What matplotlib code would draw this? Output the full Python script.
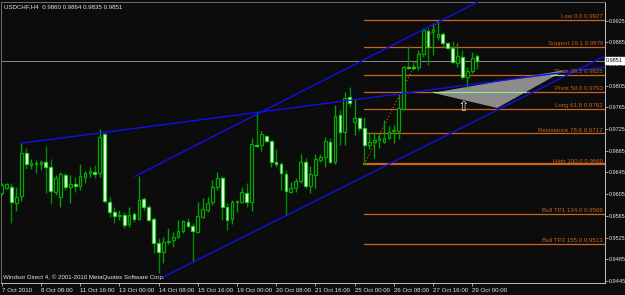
import numpy as np
import matplotlib.pyplot as plt
import matplotlib.transforms as mtransforms
from matplotlib.patches import Polygon

plt.rcParams['font.family'] = ['Liberation Sans', 'DejaVu Sans']

# USDCHF H4 candles, 7 Oct 2010 00:00 -> 29 Oct 2010 04:00 (6 bars a day)
opens = [0.9607, 0.9616, 0.9618, 0.9589, 0.9602, 0.9681, 0.9659, 0.9661, 0.9661, 0.9664,
         0.9655, 0.9609, 0.9600, 0.9640, 0.9618, 0.9624, 0.9620, 0.9637, 0.9644, 0.9646,
         0.9644, 0.9716, 0.9591, 0.9572, 0.9565, 0.9567, 0.9550, 0.9568, 0.9559, 0.9596,
         0.9581, 0.9559, 0.9515, 0.9498, 0.9517, 0.9520, 0.9526, 0.9537, 0.9554, 0.9546,
         0.9535, 0.9563, 0.9576, 0.9591, 0.9618, 0.9635, 0.9581, 0.9559, 0.9591, 0.9591,
         0.9607, 0.9591, 0.9696, 0.9696, 0.9712, 0.9703, 0.9664, 0.9661, 0.9642, 0.9609,
         0.9616, 0.9629, 0.9664, 0.9620, 0.9640, 0.9668, 0.9674, 0.9701, 0.9664, 0.9751,
         0.9720, 0.9784, 0.9738, 0.9745, 0.9727, 0.9696, 0.9701, 0.9705, 0.9701, 0.9709,
         0.9722, 0.9722, 0.9762, 0.9840, 0.9840, 0.9840, 0.9864, 0.9906, 0.9904, 0.9895,
         0.9901, 0.9884, 0.9875, 0.9847, 0.9858, 0.9821, 0.9832, 0.9860]
highs = [0.9626, 0.9626, 0.9626, 0.9618, 0.9699, 0.9690, 0.9670, 0.9668, 0.9668, 0.9694,
         0.9670, 0.9640, 0.9646, 0.9644, 0.9640, 0.9637, 0.9661, 0.9648, 0.9655, 0.9659,
         0.9725, 0.9718, 0.9600, 0.9581, 0.9576, 0.9572, 0.9581, 0.9572, 0.9638, 0.9600,
         0.9585, 0.9563, 0.9524, 0.9526, 0.9543, 0.9535, 0.9557, 0.9557, 0.9561, 0.9552,
         0.9591, 0.9598, 0.9600, 0.9631, 0.9646, 0.9638, 0.9589, 0.9594, 0.9594, 0.9618,
         0.9626, 0.9709, 0.9755, 0.9722, 0.9714, 0.9705, 0.9688, 0.9664, 0.9650, 0.9627,
         0.9635, 0.9679, 0.9672, 0.9657, 0.9679, 0.9679, 0.9710, 0.9709, 0.9770, 0.9760,
         0.9793, 0.9803, 0.9781, 0.9747, 0.9747, 0.9720, 0.9720, 0.9718, 0.9742, 0.9731,
         0.9733, 0.9788, 0.9841, 0.9878, 0.9849, 0.9871, 0.9912, 0.9912, 0.9921, 0.9927,
         0.9904, 0.9886, 0.9888, 0.9884, 0.9871, 0.9840, 0.9867, 0.9864]
lows = [0.9603, 0.9615, 0.9552, 0.9574, 0.9592, 0.9651, 0.9651, 0.9644, 0.9650, 0.9607,
        0.9587, 0.9603, 0.9581, 0.9613, 0.9589, 0.9609, 0.9613, 0.9626, 0.9637, 0.9635,
        0.9637, 0.9589, 0.9563, 0.9552, 0.9557, 0.9543, 0.9544, 0.9554, 0.9557, 0.9576,
        0.9555, 0.9496, 0.9460, 0.9478, 0.9513, 0.9508, 0.9524, 0.9533, 0.9544, 0.9480,
        0.9533, 0.9561, 0.9572, 0.9585, 0.9613, 0.9557, 0.9539, 0.9550, 0.9572, 0.9589,
        0.9581, 0.9574, 0.9692, 0.9685, 0.9701, 0.9655, 0.9655, 0.9613, 0.9567, 0.9607,
        0.9609, 0.9626, 0.9616, 0.9607, 0.9616, 0.9664, 0.9655, 0.9662, 0.9661, 0.9696,
        0.9696, 0.9766, 0.9714, 0.9722, 0.9660, 0.9688, 0.9672, 0.9690, 0.9699, 0.9707,
        0.9699, 0.9707, 0.9760, 0.9836, 0.9834, 0.9834, 0.9858, 0.9843, 0.9862, 0.9889,
        0.9877, 0.9873, 0.9847, 0.9840, 0.9817, 0.9801, 0.9829, 0.9835]
closes = [0.9622, 0.9624, 0.9591, 0.9600, 0.9681, 0.9661, 0.9662, 0.9662, 0.9664, 0.9655,
          0.9611, 0.9635, 0.9642, 0.9618, 0.9624, 0.9620, 0.9638, 0.9644, 0.9648, 0.9642,
          0.9710, 0.9592, 0.9572, 0.9565, 0.9567, 0.9548, 0.9567, 0.9559, 0.9594, 0.9581,
          0.9557, 0.9515, 0.9498, 0.9517, 0.9519, 0.9526, 0.9537, 0.9555, 0.9546, 0.9537,
          0.9565, 0.9578, 0.9589, 0.9618, 0.9635, 0.9581, 0.9557, 0.9591, 0.9592, 0.9609,
          0.9591, 0.9698, 0.9694, 0.9716, 0.9703, 0.9664, 0.9661, 0.9644, 0.9611, 0.9616,
          0.9629, 0.9664, 0.9620, 0.9642, 0.9670, 0.9674, 0.9703, 0.9664, 0.9749, 0.9720,
          0.9782, 0.9773, 0.9745, 0.9727, 0.9696, 0.9701, 0.9705, 0.9709, 0.9709, 0.9720,
          0.9723, 0.9764, 0.9840, 0.9838, 0.9838, 0.9864, 0.9908, 0.9877, 0.9908, 0.9901,
          0.9884, 0.9875, 0.9849, 0.9860, 0.9821, 0.9832, 0.9856, 0.9851]

tick_bars = [0, 8, 16, 24, 32, 40, 48, 56, 64, 72, 80, 88, 96]
tick_labels = ['7 Oct 2010', '8 Oct 08:00', '11 Oct 16:00', '13 Oct 00:00', '14 Oct 08:00',
               '15 Oct 16:00', '19 Oct 00:00', '20 Oct 08:00', '21 Oct 16:00', '25 Oct 00:00',
               '26 Oct 08:00', '27 Oct 16:00', '29 Oct 00:00']
price_ticks = [0.9925, 0.9885, 0.9845, 0.9805, 0.9765, 0.9725, 0.9685, 0.9645,
               0.9605, 0.9565, 0.9525, 0.9485, 0.9445]

# fibonacci object (anchored low bar 74 -> high bar 89)
fib_start, fib_end = 74, 89
fib_levels = [0.9927, 0.9876, 0.9825, 0.9793, 0.9762, 0.9717, 0.9660, 0.9569, 0.9513]
fib_names = ['Low 0.0', 'Support 19.1', 'Short 38.2', 'Pivot 50.0', 'Long 61.8',
             'Resistance 78.6', 'High 100.0', 'Bull TP1 134.0', 'Bull TP2 155.0']

# trend lines: start bar, start price, slope per bar
upper_chan = (27.2, 0.9638, 0.00046)
lower_chan = (32.9, 0.9452, 0.000452)
top_line = (4.0, 0.9699, 0.000118)

tri_bars = [88.0, 101.1, 115.0]
tri_prices = [0.9792, 0.9764, 0.9834]

last_price = 0.9851

BG = '#0c0c0c'
ORANGE = '#c9641c'
BLUE = '#1010e8'
TXT = '#e6e6e6'
FS = 4.4

fig = plt.figure(figsize=(6.25, 2.95), dpi=100, facecolor=BG)
ax = fig.add_axes([1 / 625, 12 / 295, 604 / 625, 281 / 295], facecolor=BG)

x = np.arange(len(opens))
o = np.array(opens)
h = np.array(highs)
l = np.array(lows)
c = np.array(closes)
up = c >= o

# wicks
ax.vlines(x[up], l[up], h[up], color='#00a000', lw=1.0, zorder=3)
ax.vlines(x[~up], l[~up], h[~up], color='#008a00', lw=1.0, zorder=3)
# bodies
body_lo = np.minimum(o, c)
body_h = np.maximum(np.abs(c - o), 0.00012)
ax.bar(x[up], body_h[up], bottom=body_lo[up], width=0.55, color=BG,
       edgecolor='#00a800', lw=0.9, zorder=4)
ax.bar(x[~up], body_h[~up], bottom=body_lo[~up], width=0.55, color='white',
       edgecolor='#20d020', lw=0.9, zorder=4)

# fibonacci levels
for lev, name in zip(fib_levels, fib_names):
    lw = 1.6 if name.startswith('High') else 0.9
    ax.plot([fib_start, 130], [lev, lev], color=ORANGE, lw=lw, zorder=2)
    ax.annotate(f'{name} {lev:.4f}', (122.7, lev), xytext=(0, 0.6),
                textcoords='offset points', ha='right', va='bottom',
                color=ORANGE, fontsize=FS, zorder=6)
ax.plot([fib_start, fib_end], [fib_levels[6], fib_levels[0]], color=ORANGE,
        lw=0.8, ls=(0, (1, 2)), zorder=2)

# current price line
ax.axhline(last_price, color='#8a8a8a', lw=0.7, zorder=1)

# gray triangle and light green guide lines
ax.add_patch(Polygon(list(zip(tri_bars, tri_prices)), closed=True,
                     fc='#8c8c8c', ec='none', zorder=2.5))
ax.plot([tri_bars[0], 107], [fib_levels[3], fib_levels[3]], color='#90ee90', lw=0.8, zorder=2.6)
ax.plot([112, tri_bars[2]], [fib_levels[2], fib_levels[2]], color='#90ee90', lw=0.8, zorder=2.6)

# trend lines
for x0, p0, k in (upper_chan, lower_chan, top_line):
    ax.plot([x0, 130], [p0, p0 + k * (130 - x0)], color=BLUE, lw=1.0, zorder=5)

ax.text(94.2, 0.9766, '\u21e7', family='DejaVu Sans', fontsize=10, color='#d8d8d8',
        ha='center', va='center', zorder=6)

ax.set_xlim(-0.14, 123.1)
ax.set_ylim(0.94411, 0.99595)

ax.set_xticks(tick_bars)
ax.set_xticklabels(tick_labels, fontsize=FS, color=TXT)
for t in ax.get_xticklabels():
    t.set_horizontalalignment('left')
ax.tick_params(axis='x', direction='out', length=2.5, width=0.6, color='#b0b0b0', pad=1)

ax.yaxis.tick_right()
ax.set_yticks(price_ticks)
ax.set_yticklabels([f'{p:.4f}' for p in price_ticks], fontsize=4.0, color=TXT)
ax.tick_params(axis='y', direction='out', length=2, width=0.6, color='#b0b0b0', pad=1)

for side in ('left', 'top'):
    ax.spines[side].set_color('#707070')
    ax.spines[side].set_linewidth(0.7)
for side in ('right', 'bottom'):
    ax.spines[side].set_color('#c0c0c0')
    ax.spines[side].set_linewidth(0.7)

trans = mtransforms.blended_transform_factory(ax.transAxes, ax.transData)
ax.text(1.002, last_price, f'{last_price:.4f}', transform=trans, fontsize=4.0,
        color='black', va='center', ha='left', clip_on=False, zorder=10,
        bbox=dict(fc='white', ec='white', pad=0.6))

ax.text(0.005, 0.982, 'USDCHF,H4  0.9860 0.9864 0.9835 0.9851', transform=ax.transAxes,
        fontsize=FS, color=TXT, va='center', ha='left')
ax.text(0.0035, 0.022, 'Windsor Direct 4, \u00a9 2001-2010 MetaQuotes Software Corp.',
        transform=ax.transAxes, fontsize=FS, color=TXT, va='center', ha='left', zorder=7)

fig.savefig('out.png', dpi=100, facecolor=BG)
